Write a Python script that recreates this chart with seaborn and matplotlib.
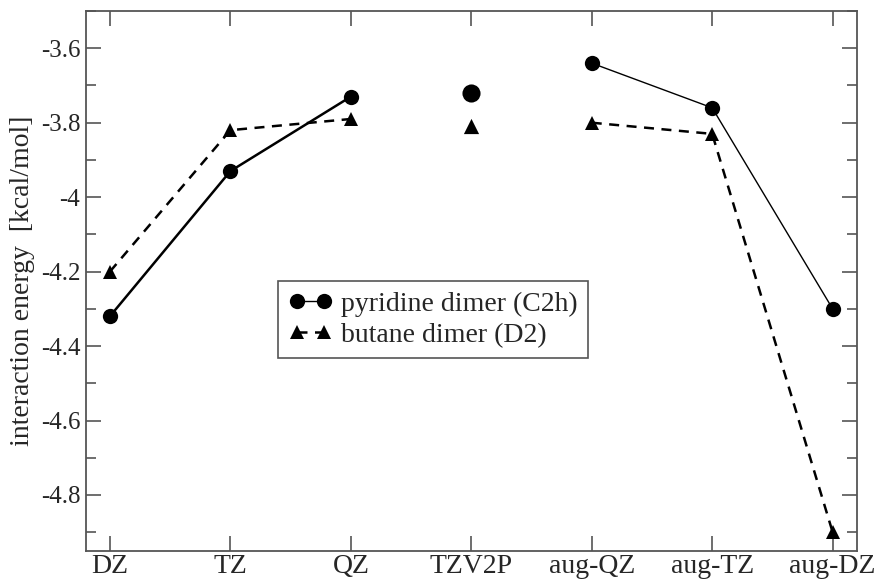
import numpy as np
import pandas as pd
import matplotlib
matplotlib.use("Agg")
import matplotlib.pyplot as plt
from matplotlib.ticker import MultipleLocator
import seaborn as sns

basis_sets = ["DZ", "TZ", "QZ", "TZV2P", "aug-QZ", "aug-TZ", "aug-DZ"]
pyridine = [-4.32, -3.93, -3.73, -3.72, -3.64, -3.76, -4.30]
butane = [-4.20, -3.82, -3.79, -3.81, -3.80, -3.83, -4.90]
# which points are joined by a line (TZV2P stands alone)
segment = ["plain", "plain", "plain", "single", "aug", "aug", "aug"]

df = pd.DataFrame({"basis": basis_sets, "pos": np.arange(len(basis_sets)),
                   "pyridine": pyridine, "butane": butane, "segment": segment})

sns.set_style("ticks")
plt.rcParams["font.family"] = ["Liberation Serif", "DejaVu Serif"]
plt.rcParams["axes.unicode_minus"] = False

fig, ax = plt.subplots(figsize=(8.76, 5.81), dpi=100)
fig.subplots_adjust(left=0.098, right=0.978, top=0.981, bottom=0.052)

grey = "#555555"
lw_pyr = {"plain": 1.8, "aug": 1.0}
for seg in ["plain", "aug"]:
    sub = df[df["segment"] == seg]
    sns.lineplot(data=sub, x="pos", y="pyridine", ax=ax, color="black",
                 linewidth=lw_pyr[seg], marker="o", markersize=11,
                 markeredgewidth=0, sort=False)
    sns.lineplot(data=sub, x="pos", y="butane", ax=ax, color="black",
                 linewidth=1.8, linestyle=(0, (4, 3)), marker="^",
                 markersize=10, markeredgewidth=0, sort=False)

single = df[df["segment"] == "single"]
sns.scatterplot(data=single, x="pos", y="pyridine", ax=ax, color="black",
                marker="o", s=170, linewidth=0)
sns.scatterplot(data=single, x="pos", y="butane", ax=ax, color="black",
                marker="^", s=120, linewidth=0)

ax.set_xlim(-0.2, 6.2)
ax.set_ylim(-4.95, -3.5)
ax.set_xticks(df["pos"])
ax.set_xticklabels(basis_sets)
ax.yaxis.set_major_locator(MultipleLocator(0.2))
ax.yaxis.set_minor_locator(MultipleLocator(0.1))
ax.yaxis.set_major_formatter(matplotlib.ticker.FuncFormatter(lambda v, p: f"{v:g}"))
ax.tick_params(axis="both", which="both", direction="in", top=True, right=True,
               color=grey, pad=4)
ax.tick_params(axis="x", which="major", labelsize=20, pad=2)
ax.tick_params(axis="y", which="major", labelsize=18)
ax.tick_params(axis="both", which="major", length=11, width=1.2)
ax.tick_params(axis="y", which="minor", length=7, width=1.2)
for sp in ax.spines.values():
    sp.set_color(grey)
    sp.set_linewidth(1.3)

ax.set_xlabel("")
ax.set_ylabel("interaction energy  [kcal/mol]", fontsize=20, labelpad=4)

lines = ax.get_lines()
leg = ax.legend([lines[2], lines[1]], ["pyridine dimer (C2h)", "butane dimer (D2)"],
                loc="upper left", bbox_to_anchor=(0.249, 0.5), fontsize=20,
                numpoints=2, handlelength=1.6, handletextpad=0.3,
                borderpad=0.38, labelspacing=0.2, borderaxespad=0,
                fancybox=False, framealpha=1, edgecolor=grey)
leg.get_frame().set_linewidth(1.2)

fig.savefig("out.png", dpi=100)
